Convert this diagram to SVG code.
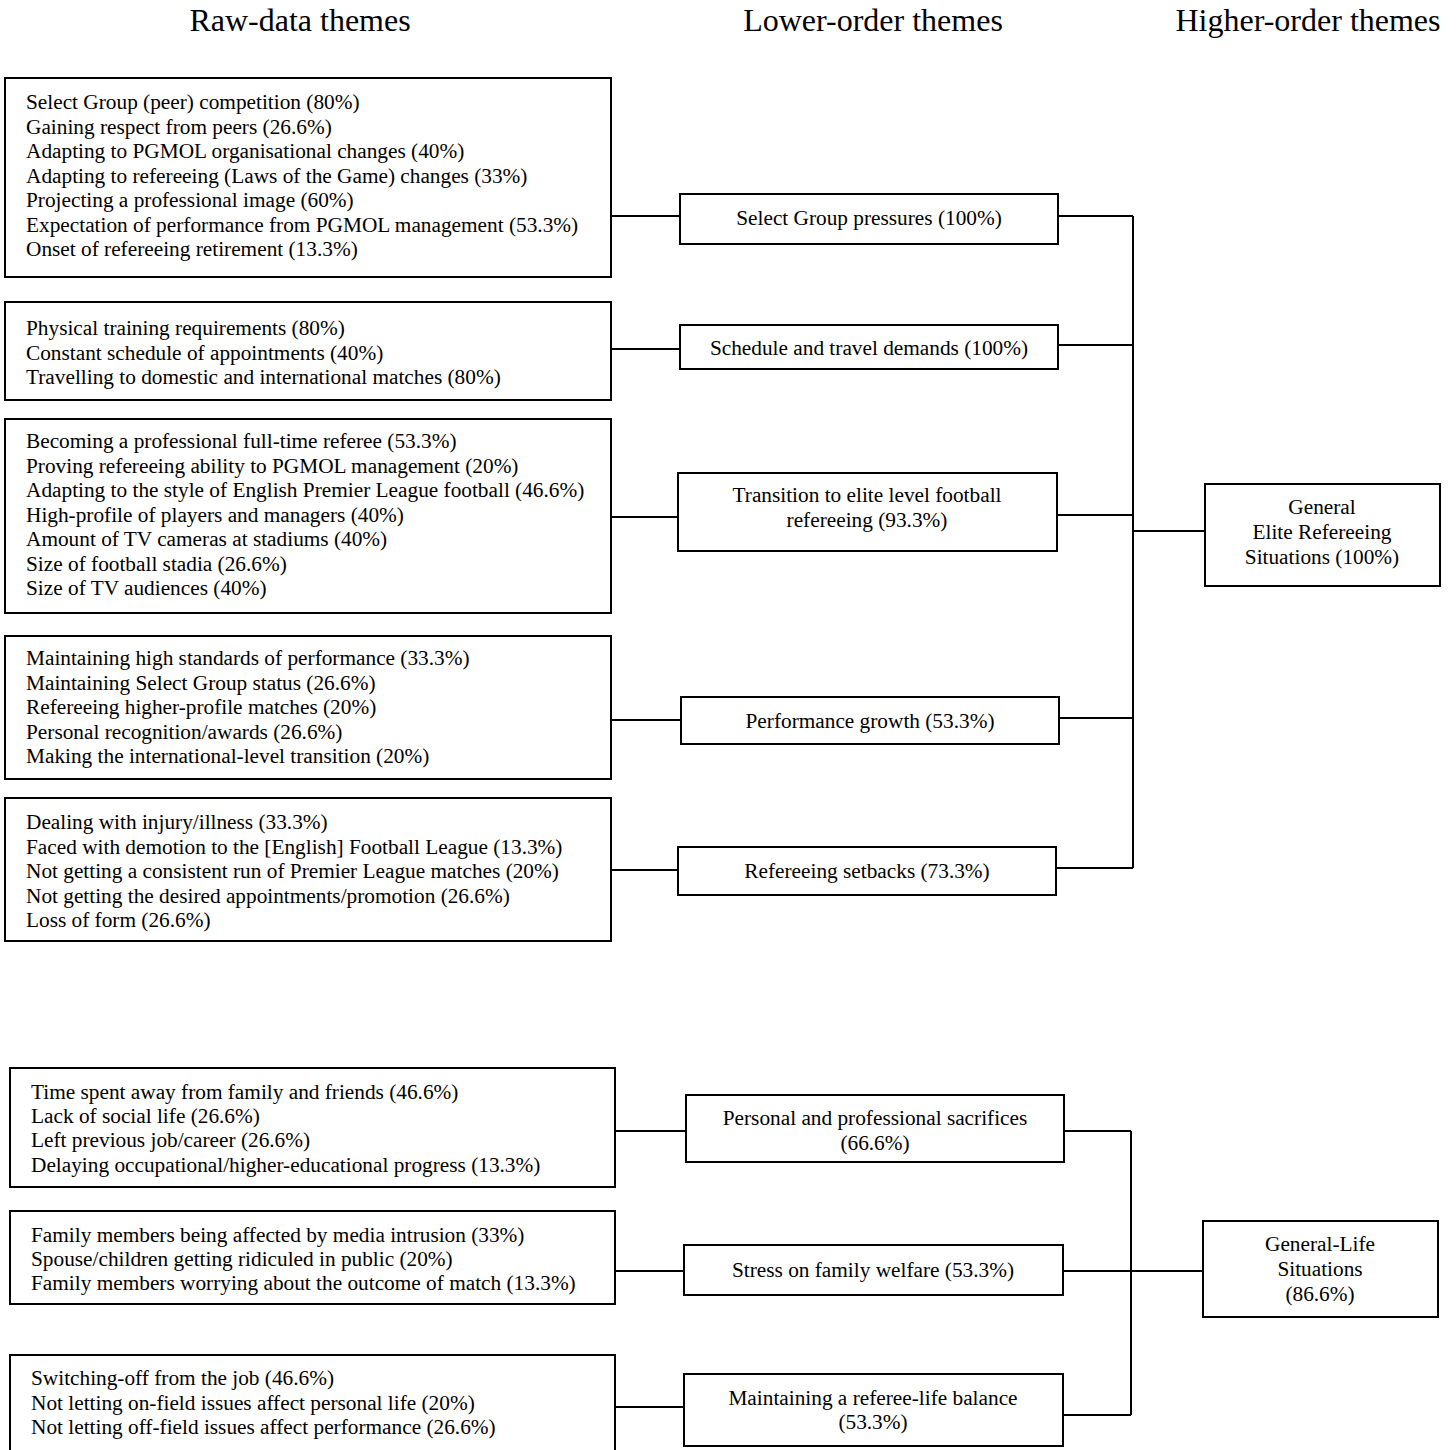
<svg xmlns="http://www.w3.org/2000/svg" width="1456" height="1450" viewBox="0 0 1456 1450">
<style>
.box{fill:#fff;stroke:#000;stroke-width:2}
.ln{stroke:#000;stroke-width:2;fill:none}
text{font-family:"Liberation Serif","Times New Roman",serif;fill:#000}
.t{font-size:21.3px}
.c{font-size:21.3px;text-anchor:middle}
.h{font-size:32px;text-anchor:middle}
</style>
<rect width="1456" height="1450" fill="#fff"/>
<g id="headers">
<text class="h" x="300" y="31">Raw-data themes</text>
<text class="h" x="873" y="31">Lower-order themes</text>
<text class="h" x="1308" y="31">Higher-order themes</text>
</g>
<g id="connectors">
<path class="ln" d="M611 216H680M611 349H680M611 517H678M611 720H681M611 870H678"/>
<path class="ln" d="M1058 216H1133M1058 345H1133M1057 515H1133M1059 718H1133M1056 868H1133M1133 216V868M1133 531H1205"/>
<path class="ln" d="M615 1131H686M615 1271H684M615 1407H684"/>
<path class="ln" d="M1064 1131H1131M1063 1271H1203M1063 1415H1131M1131 1131V1415"/>
</g>
<g id="raw1"><rect class="box" x="5" y="78" width="606" height="199"/>
<text class="t" x="26" y="109">Select Group (peer) competition (80%)</text>
<text class="t" x="26" y="133.5">Gaining respect from peers (26.6%)</text>
<text class="t" x="26" y="158">Adapting to PGMOL organisational changes (40%)</text>
<text class="t" x="26" y="182.5">Adapting to refereeing (Laws of the Game) changes (33%)</text>
<text class="t" x="26" y="207">Projecting a professional image (60%)</text>
<text class="t" x="26" y="231.5">Expectation of performance from PGMOL management (53.3%)</text>
<text class="t" x="26" y="256">Onset of refereeing retirement (13.3%)</text>
</g>
<g id="raw2"><rect class="box" x="5" y="302" width="606" height="98"/>
<text class="t" x="26" y="335">Physical training requirements (80%)</text>
<text class="t" x="26" y="359.5">Constant schedule of appointments (40%)</text>
<text class="t" x="26" y="384">Travelling to domestic and international matches (80%)</text>
</g>
<g id="raw3"><rect class="box" x="5" y="419" width="606" height="194"/>
<text class="t" x="26" y="448">Becoming a professional full-time referee (53.3%)</text>
<text class="t" x="26" y="472.5">Proving refereeing ability to PGMOL management (20%)</text>
<text class="t" x="26" y="497">Adapting to the style of English Premier League football (46.6%)</text>
<text class="t" x="26" y="521.5">High-profile of players and managers (40%)</text>
<text class="t" x="26" y="546">Amount of TV cameras at stadiums (40%)</text>
<text class="t" x="26" y="570.5">Size of football stadia (26.6%)</text>
<text class="t" x="26" y="595">Size of TV audiences (40%)</text>
</g>
<g id="raw4"><rect class="box" x="5" y="636" width="606" height="143"/>
<text class="t" x="26" y="665">Maintaining high standards of performance (33.3%)</text>
<text class="t" x="26" y="689.5">Maintaining Select Group status (26.6%)</text>
<text class="t" x="26" y="714">Refereeing higher-profile matches (20%)</text>
<text class="t" x="26" y="738.5">Personal recognition/awards (26.6%)</text>
<text class="t" x="26" y="763">Making the international-level transition (20%)</text>
</g>
<g id="raw5"><rect class="box" x="5" y="798" width="606" height="143"/>
<text class="t" x="26" y="829">Dealing with injury/illness (33.3%)</text>
<text class="t" x="26" y="853.5">Faced with demotion to the [English] Football League (13.3%)</text>
<text class="t" x="26" y="878">Not getting a consistent run of Premier League matches (20%)</text>
<text class="t" x="26" y="902.5">Not getting the desired appointments/promotion (26.6%)</text>
<text class="t" x="26" y="927">Loss of form (26.6%)</text>
</g>
<g id="low1"><rect class="box" x="680" y="194" width="378" height="50"/><text class="c" x="869" y="225">Select Group pressures (100%)</text></g>
<g id="low2"><rect class="box" x="680" y="325" width="378" height="44"/><text class="c" x="869" y="355">Schedule and travel demands (100%)</text></g>
<g id="low3"><rect class="box" x="678" y="473" width="379" height="78"/><text class="c" x="867" y="502">Transition to elite level football</text><text class="c" x="867" y="527">refereeing (93.3%)</text></g>
<g id="low4"><rect class="box" x="681" y="697" width="378" height="47"/><text class="c" x="870" y="728">Performance growth (53.3%)</text></g>
<g id="low5"><rect class="box" x="678" y="847" width="378" height="48"/><text class="c" x="867" y="878">Refereeing setbacks (73.3%)</text></g>
<g id="high1"><rect class="box" x="1205" y="484" width="235" height="102"/><text class="c" x="1322" y="514">General</text><text class="c" x="1322" y="539">Elite Refereeing</text><text class="c" x="1322" y="564">Situations (100%)</text></g>
<g id="raw6"><rect class="box" x="10" y="1068" width="605" height="119"/>
<text class="t" x="31" y="1099">Time spent away from family and friends (46.6%)</text>
<text class="t" x="31" y="1123">Lack of social life (26.6%)</text>
<text class="t" x="31" y="1147">Left previous job/career (26.6%)</text>
<text class="t" x="31" y="1172">Delaying occupational/higher-educational progress (13.3%)</text>
</g>
<g id="raw7"><rect class="box" x="10" y="1211" width="605" height="93"/>
<text class="t" x="31" y="1242">Family members being affected by media intrusion (33%)</text>
<text class="t" x="31" y="1266">Spouse/children getting ridiculed in public (20%)</text>
<text class="t" x="31" y="1290">Family members worrying about the outcome of match (13.3%)</text>
</g>
<g id="raw8"><rect class="box" x="10" y="1355" width="605" height="110"/>
<text class="t" x="31" y="1385">Switching-off from the job (46.6%)</text>
<text class="t" x="31" y="1410">Not letting on-field issues affect personal life (20%)</text>
<text class="t" x="31" y="1434">Not letting off-field issues affect performance (26.6%)</text>
</g>
<g id="low6"><rect class="box" x="686" y="1095" width="378" height="67"/><text class="c" x="875" y="1125">Personal and professional sacrifices</text><text class="c" x="875" y="1150">(66.6%)</text></g>
<g id="low7"><rect class="box" x="684" y="1245" width="379" height="50"/><text class="c" x="873" y="1277">Stress on family welfare (53.3%)</text></g>
<g id="low8"><rect class="box" x="684" y="1374" width="379" height="72"/><text class="c" x="873" y="1405">Maintaining a referee-life balance</text><text class="c" x="873" y="1429">(53.3%)</text></g>
<g id="high2"><rect class="box" x="1203" y="1221" width="235" height="96"/><text class="c" x="1320" y="1251">General-Life</text><text class="c" x="1320" y="1276">Situations</text><text class="c" x="1320" y="1301">(86.6%)</text></g>
</svg>
